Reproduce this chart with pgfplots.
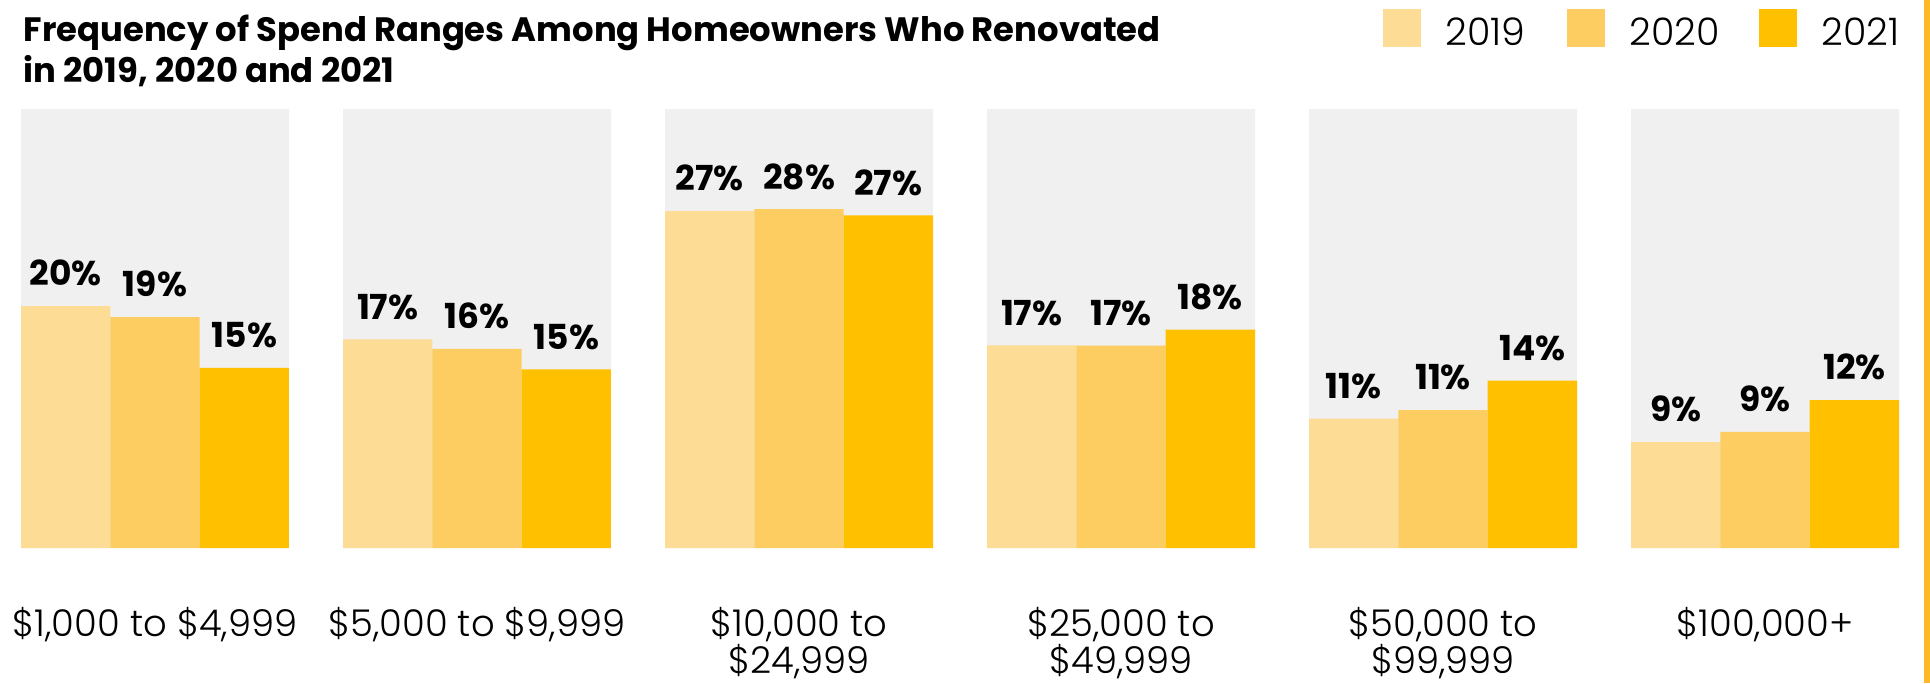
\documentclass[border=0pt]{standalone}
\usepackage{fontspec}
\setmainfont{Poppins}
\newfontfamily\lightfont{Poppins Light}
\usepackage{pgfplots}
\pgfplotsset{compat=1.18}

\definecolor{c19}{HTML}{FDDC96}
\definecolor{c20}{HTML}{FDCD61}
\definecolor{c21}{HTML}{FFC000}
\definecolor{panel}{HTML}{F0F0F0}
\definecolor{edge}{HTML}{FCBA27}

\begin{document}
\begin{tikzpicture}
\useasboundingbox (0,0) rectangle (19.3,6.83);
\begin{axis}[
  at={(0,1.35cm)}, anchor=south west,
  scale only axis, width=19.3cm, height=4.39cm,
  xmin=0, xmax=1930, ymin=0, ymax=36.28,
  hide axis, clip=false,
  ybar, bar shift=0pt,
  point meta=explicit symbolic,
  every node near coord/.append style={font=\fontsize{9.8}{11}\selectfont\bfseries,
    inner sep=0pt, yshift=0.19cm, text=black},
]
% grey panels
\addplot[fill=panel, draw=none, bar width=268] coordinates
  {(155,36.28) (477,36.28) (799,36.28) (1121,36.28) (1443,36.28) (1765,36.28)};
% 2019
\addplot[fill=c19, draw=none, bar width=89.33, nodes near coords] coordinates
  {(65.67,20.0)[20\%] (387.67,17.25)[17\%] (709.67,27.85)[27\%]
   (1031.67,16.75)[17\%] (1353.67,10.69)[11\%] (1675.67,8.76)[9\%]};
% 2020
\addplot[fill=c20, draw=none, bar width=89.33, nodes near coords] coordinates
  {(155,19.09)[19\%] (477,16.45)[16\%] (799,28.0)[28\%]
   (1121,16.72)[17\%] (1443,11.4)[11\%] (1765,9.59)[9\%]};
% 2021
\addplot[fill=c21, draw=none, bar width=89.33, nodes near coords] coordinates
  {(244.33,14.88)[15\%] (566.33,14.77)[15\%] (888.33,27.5)[27\%]
   (1210.33,18.04)[18\%] (1532.33,13.83)[14\%] (1854.33,12.23)[12\%]};
\end{axis}

% title
\node[anchor=base west, inner sep=0pt, font=\fontsize{9.62}{11}\selectfont\bfseries]
  at (0.23,6.42) {Frequency of Spend Ranges Among Homeowners Who Renovated};
\node[anchor=base west, inner sep=0pt, font=\fontsize{9.62}{11}\selectfont\bfseries]
  at (0.23,6.01) {in 2019, 2020 and 2021};

% legend
\fill[c19] (13.83,6.363) rectangle (14.21,6.74);
\fill[c20] (15.67,6.363) rectangle (16.05,6.74);
\fill[c21] (17.59,6.363) rectangle (17.97,6.74);
\begin{scope}[every node/.style={anchor=base west, inner sep=0pt,
    font=\lightfont\fontsize{10.8}{12}\selectfont}]
\node at (14.45,6.373) {2019};
\node at (16.29,6.373) {2020};
\node at (18.21,6.373) {2021};
\end{scope}

% category labels
\begin{scope}[every node/.style={anchor=base, inner sep=0pt,
    font=\lightfont\fontsize{10.5}{12}\selectfont}]
\node at (1.55,0.47) {\$1,000 to \$4,999};
\node at (4.77,0.47) {\$5,000 to \$9,999};
\node at (7.99,0.47) {\$10,000 to};
\node at (7.99,0.10) {\$24,999};
\node at (11.21,0.47) {\$25,000 to};
\node at (11.21,0.10) {\$49,999};
\node at (14.43,0.47) {\$50,000 to};
\node at (14.43,0.10) {\$99,999};
\node at (17.65,0.47) {\$100,000+};
\end{scope}

% right edge stripe
\fill[edge] (19.24,0) rectangle (19.3,6.83);
\end{tikzpicture}
\end{document}
